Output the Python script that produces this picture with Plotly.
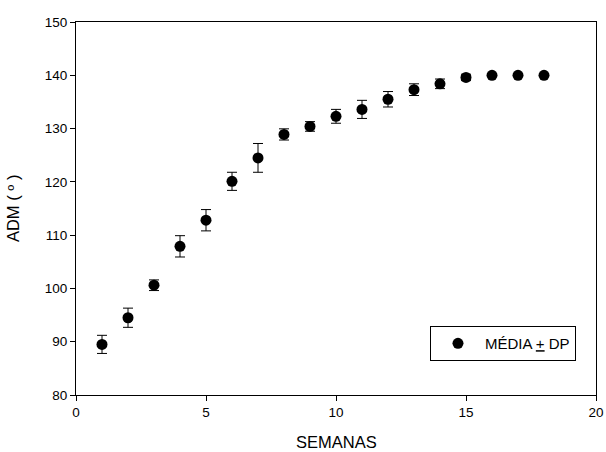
import plotly.graph_objects as go

semanas = [1, 2, 3, 4, 5, 6, 7, 8, 9, 10, 11, 12, 13, 14, 15, 16, 17, 18]
media = [89.5, 94.5, 100.6, 107.9, 112.8, 120.1, 124.5, 128.9, 130.4, 132.3,
         133.6, 135.5, 137.3, 138.4, 139.6, 140.0, 140.0, 140.0]
dp = [1.7, 1.8, 1.0, 2.0, 2.0, 1.7, 2.7, 1.05, 0.9, 1.3,
      1.7, 1.45, 1.1, 0.9, 0.6, 0.0, 0.0, 0.0]
x_ticks = [0, 5, 10, 15, 20]
y_ticks = [80, 90, 100, 110, 120, 130, 140, 150]

FONT = "Liberation Sans, Arial, sans-serif"

fig = go.Figure()
fig.add_trace(go.Scatter(
    x=semanas, y=media, mode="markers",
    name="MÉDIA <u>+</u> DP",
    marker=dict(color="black", size=11, line=dict(width=0)),
    error_y=dict(type="data", array=dp, visible=True, color="black",
                 thickness=1, width=5),
))

fig.update_layout(
    width=606, height=452,
    margin=dict(l=76, r=10, t=22, b=57, autoexpand=False),
    paper_bgcolor="white", plot_bgcolor="white",
    font=dict(family=FONT, size=13.5, color="black"),
    showlegend=True,
    legend=dict(x=0.9615, xanchor="right", y=0.091, yanchor="bottom",
                bordercolor="black", borderwidth=1, bgcolor="white",
                font=dict(family=FONT, size=15, color="black"),
                itemwidth=44),
    annotations=[
        dict(text="SEMANAS", xref="paper", yref="paper", x=0.5, y=-0.127,
             xanchor="center", yanchor="middle", showarrow=False,
             font=dict(family=FONT, size=16.5, color="black")),
        dict(text="ADM ( º )", xref="paper", yref="paper", x=-0.122, y=0.5,
             xanchor="center", yanchor="middle", showarrow=False, textangle=-90,
             font=dict(family=FONT, size=16.5, color="black")),
    ],
)
fig.update_xaxes(
    range=[0, 20], tickvals=x_ticks, showgrid=False, zeroline=False,
    showline=True, linecolor="black", linewidth=1, mirror=True,
    ticks="outside", ticklen=5, tickcolor="black", automargin=False,
    tickfont=dict(size=13.5),
)
fig.update_yaxes(
    range=[80, 150], tickvals=y_ticks,
    showgrid=False, zeroline=False,
    showline=True, linecolor="black", linewidth=1, mirror=True,
    ticks="outside", ticklen=5, tickcolor="black", automargin=False,
    tickfont=dict(size=13.5),
)

fig.write_html("out.html", config={"displayModeBar": False},
               post_script="document.body.style.margin='0';")
